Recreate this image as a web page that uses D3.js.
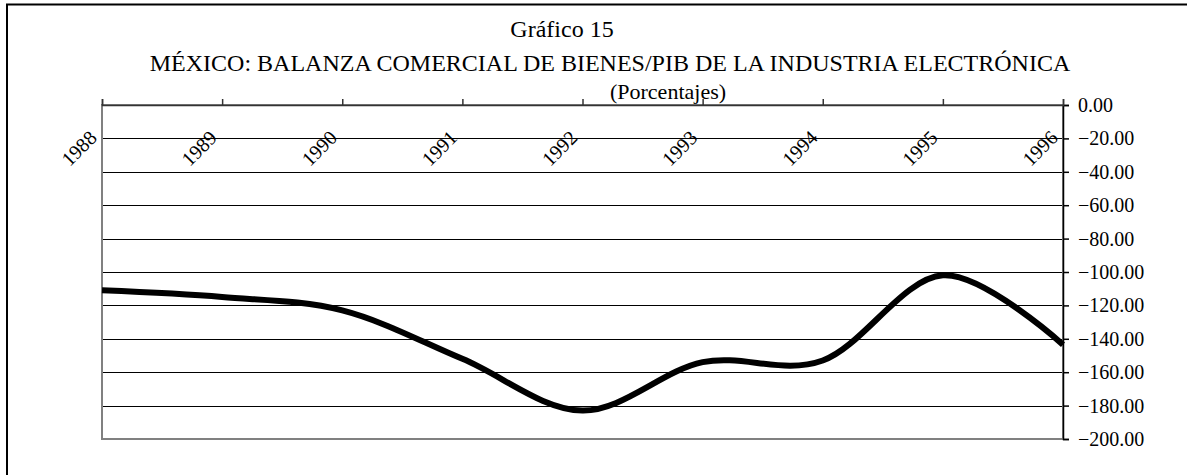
<!DOCTYPE html>
<html>
<head>
<meta charset="utf-8">
<script src="https://cdn.jsdelivr.net/npm/d3@7"></script>
<style>
  html, body { margin: 0; padding: 0; background: #fff; }
  svg { display: block; font-family: "Liberation Serif", "Times New Roman", serif; }
</style>
</head>
<body>
<svg id="chart" width="1187" height="475"></svg>
<script>
// Chart data
var years = ['1988', '1989', '1990', '1991', '1992', '1993', '1994', '1995', '1996'];
var balance = [-111, -115, -123, -152, -183, -154, -153, -102, -143.5];
var valueTicks = [0, -20, -40, -60, -80, -100, -120, -140, -160, -180, -200];
var titleLines = ['Gráfico 15', 'MÉXICO: BALANZA COMERCIAL DE BIENES/PIB DE LA INDUSTRIA ELECTRÓNICA', '(Porcentajes)'];

(function() {
  'use strict';

  var svg = d3.select('#chart');
  var plot = { left: 102, right: 1063, top: 105, bottom: 439 };

  var x = d3.scalePoint()
    .domain(years)
    .range([plot.left, plot.right]);

  var y = d3.scaleLinear()
    .domain([-200, 0])
    .range([plot.bottom, plot.top]);

  var fmt = d3.format('.2f');

  // outer frame (only top and left edges fall inside the picture)
  svg.append('path')
    .attr('d', 'M7,1200V4.5H1300')
    .attr('fill', 'none')
    .attr('stroke', '#000')
    .attr('stroke-width', 2);

  // titles: each line sits on its own, as in the source sheet
  var titleX = [562, 610, 668];
  var titleY = [37, 71, 99];
  var titleSize = [24, 24, 22];

  svg.selectAll('.title')
    .data(titleLines)
    .enter()
    .append('text')
    .attr('class', 'title')
    .attr('x', function(d, i) { return titleX[i]; })
    .attr('y', function(d, i) { return titleY[i]; })
    .attr('text-anchor', 'middle')
    .attr('font-size', function(d, i) { return titleSize[i]; })
    .text(function(d) { return d; });

  // gridlines
  svg.append('g')
    .selectAll('line')
    .data(valueTicks.slice(1, -1))
    .enter()
    .append('line')
    .attr('x1', plot.left)
    .attr('x2', plot.right)
    .attr('y1', function(d) { return Math.round(y(d)) + 0.5; })
    .attr('y2', function(d) { return Math.round(y(d)) + 0.5; })
    .attr('stroke', '#000')
    .attr('stroke-width', 1);

  // plot area border
  svg.append('rect')
    .attr('x', plot.left)
    .attr('y', plot.top)
    .attr('width', plot.right - plot.left)
    .attr('height', plot.bottom - plot.top)
    .attr('fill', 'none')
    .attr('stroke', '#808080')
    .attr('stroke-width', 2);

  // value axis on the right
  var yAxis = d3.axisRight(y)
    .tickValues(valueTicks)
    .tickSize(6)
    .tickPadding(9)
    .tickFormat(fmt);

  var yg = svg.append('g')
    .attr('transform', 'translate(' + plot.right + ',0)')
    .call(yAxis);
  yg.select('.domain').attr('stroke', '#000').attr('stroke-width', 1.5);
  yg.selectAll('.tick line').attr('stroke', '#000').attr('stroke-width', 1.5);
  yg.selectAll('.tick text')
    .attr('font-family', '"Liberation Serif", "Times New Roman", serif')
    .attr('font-size', 20)
    .attr('fill', '#000');

  // category axis along the zero line (top)
  var xAxis = d3.axisTop(x)
    .tickSize(6)
    .tickFormat('');

  var xg = svg.append('g')
    .attr('transform', 'translate(0,' + y(0) + ')')
    .call(xAxis);
  xg.select('.domain').attr('stroke', '#333').attr('stroke-width', 1.5);
  xg.selectAll('.tick line').attr('stroke', '#333').attr('stroke-width', 1.5);

  svg.append('g')
    .selectAll('text')
    .data(years)
    .enter()
    .append('text')
    .attr('transform', function(d) {
      return 'translate(' + (x(d) - 4) + ',139) rotate(-45)';
    })
    .attr('text-anchor', 'end')
    .attr('font-size', 20)
    .text(function(d) { return d; });

  // smoothed series line
  var line = d3.line()
    .x(function(d, i) { return x(years[i]); })
    .y(function(d) { return y(d); })
    .curve(d3.curveCardinal.tension(0));

  svg.append('path')
    .datum(balance)
    .attr('d', line)
    .attr('fill', 'none')
    .attr('stroke', '#000')
    .attr('stroke-width', 6)
    .attr('stroke-linejoin', 'round');
})();
</script>
</body>
</html>
